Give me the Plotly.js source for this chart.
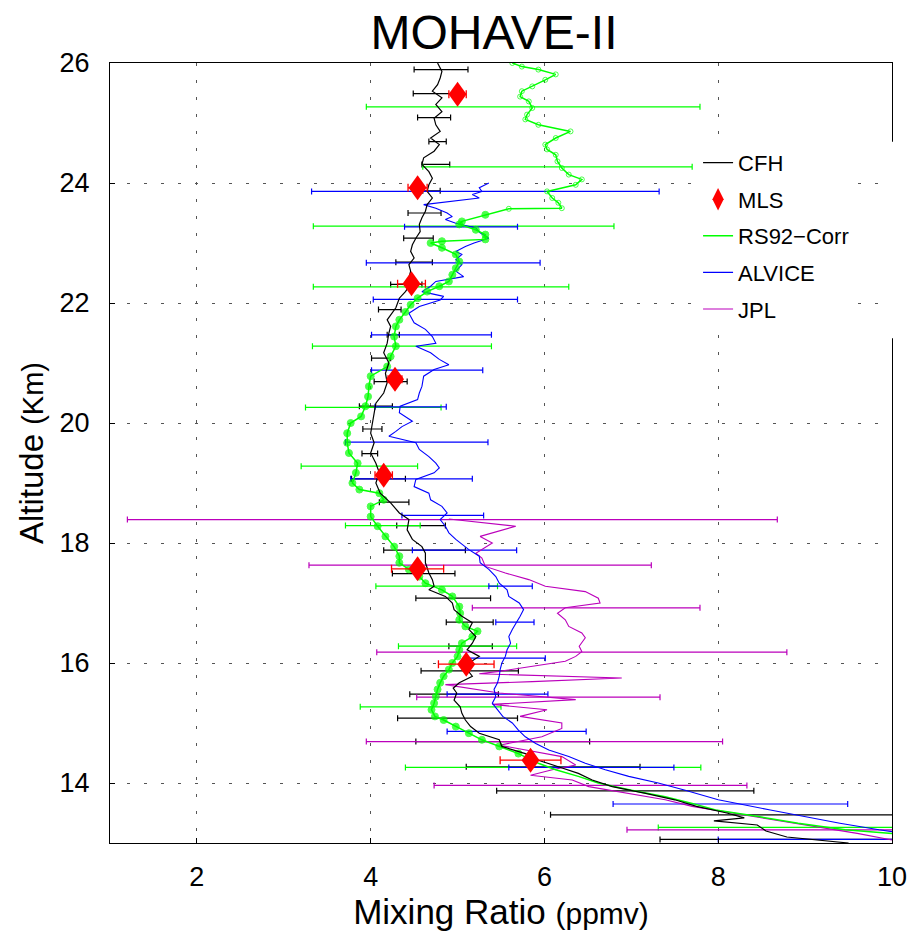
<!DOCTYPE html>
<html>
<head>
<meta charset="utf-8">
<script src="https://cdn.plot.ly/plotly-3.0.1.min.js"></script>
<style>html,body{margin:0;padding:0;background:#fff;}#chart{width:924px;height:931px;}</style>
</head>
<body>
<div id="chart"></div>
<script>
// ---------- CFH (black) profile ----------
const cfhAlt = [26.0,25.86,25.75,25.64,25.53,25.42,25.31,25.19,25.08,24.97,24.86,24.75,24.64,24.53,24.42,24.31,24.19,24.08,23.97,23.86,23.75,23.64,23.53,23.42,23.31,23.19,23.08,22.97,22.86,22.75,22.64,22.53,22.42,22.31,22.19,22.08,21.92,21.72,21.61,21.5,21.33,21.17,21.0,20.83,20.67,20.5,20.33,20.17,20.0,19.83,19.67,19.5,19.33,19.17,19.0,18.83,18.67,18.5,18.39,18.22,18.06,17.94,17.83,17.67,17.5,17.39,17.28,17.22,17.11,17.0,16.89,16.78,16.67,16.56,16.44,16.33,16.22,16.11,16.0,15.89,15.78,15.67,15.58,15.5,15.38,15.27,15.16,15.05,14.94,14.83,14.72,14.61,14.49,14.38,14.27,14.16,14.05,13.94,13.83,13.72,13.61,13.5,13.42,13.37,13.3,13.2,13.1,13.05,13.0];
const cfhMix = [4.77,4.82,4.80,4.77,4.71,4.82,4.75,4.82,4.73,4.75,4.80,4.69,4.79,4.73,4.61,4.59,4.67,4.71,4.67,4.65,4.71,4.65,4.63,4.59,4.56,4.57,4.52,4.48,4.46,4.50,4.44,4.46,4.44,4.46,4.40,4.33,4.29,4.19,4.23,4.21,4.19,4.15,4.21,4.17,4.19,4.15,4.06,4.04,4.02,4.00,4.04,4.00,4.06,4.10,4.06,4.11,4.23,4.33,4.44,4.42,4.48,4.59,4.63,4.63,4.67,4.71,4.73,4.67,4.86,4.94,4.96,5.05,5.17,5.13,5.21,5.17,5.11,5.25,5.13,5.11,5.17,5.02,4.95,4.99,4.96,5.03,5.05,5.09,5.15,5.25,5.48,5.51,5.78,5.93,6.16,6.39,6.55,6.78,7.15,7.50,7.75,8.10,8.30,7.95,8.45,8.55,8.79,9.15,9.50];

// ---------- RS92-Corr (green) profile ----------
const rsAlt = [26.0,25.94,25.89,25.81,25.72,25.61,25.53,25.44,25.36,25.25,25.14,25.06,24.97,24.86,24.75,24.64,24.56,24.47,24.36,24.25,24.14,24.06,23.97,23.86,23.75,23.67,23.58,23.57,23.47,23.36,23.31,23.22,23.14,23.06,23.03,23.0,22.92,22.81,22.69,22.58,22.47,22.36,22.28,22.19,22.08,21.97,21.85,21.72,21.61,21.44,21.28,21.11,20.94,20.78,20.61,20.44,20.28,20.11,20.0,19.83,19.67,19.5,19.33,19.17,19.0,18.89,18.83,18.72,18.61,18.44,18.28,18.11,17.94,17.78,17.67,17.56,17.44,17.33,17.22,17.11,16.94,16.83,16.72,16.61,16.53,16.44,16.33,16.22,16.11,16.0,15.89,15.78,15.67,15.56,15.44,15.33,15.22,15.11,15.05,14.94,14.83,14.72,14.61,14.49,14.33,14.22,14.11,14.0,13.88,13.77,13.66,13.55,13.44,13.33,13.22,13.16];
const rsMix = [5.63,5.74,5.93,6.13,6.01,5.86,5.74,5.72,5.82,5.86,5.80,5.78,5.93,6.30,6.13,6.01,6.03,6.13,6.15,6.20,6.28,6.43,6.36,6.03,6.09,6.16,6.20,5.59,5.32,5.05,5.02,5.21,5.32,5.32,4.82,4.69,4.82,4.98,5.02,4.98,4.94,4.90,4.79,4.65,4.54,4.46,4.40,4.33,4.29,4.27,4.29,4.23,4.19,4.00,3.98,3.97,3.94,3.89,3.77,3.73,3.73,3.75,3.85,3.83,3.79,3.87,4.10,4.15,4.00,4.00,4.08,4.17,4.27,4.33,4.33,4.44,4.56,4.63,4.82,4.94,5.02,5.03,5.02,5.09,5.23,5.17,5.05,5.02,5.00,4.94,4.90,4.84,4.80,4.77,4.75,4.73,4.70,4.74,4.84,4.98,5.13,5.28,5.48,5.70,5.93,6.13,6.39,6.62,7.00,7.39,7.70,7.97,8.46,8.92,9.46,10.0];

// ---------- ALVICE (blue) profile ----------
const alvAlt = [24.0,23.92,23.86,23.81,23.75,23.69,23.64,23.58,23.5,23.44,23.39,23.33,23.25,23.17,23.08,23.0,22.94,22.86,22.81,22.72,22.64,22.53,22.44,22.36,22.28,22.19,22.11,22.05,21.94,21.83,21.67,21.56,21.44,21.33,21.28,21.17,21.06,20.97,20.89,20.78,20.61,20.5,20.39,20.28,20.17,20.03,19.94,19.86,19.78,19.67,19.56,19.44,19.33,19.25,19.17,19.06,18.94,18.83,18.72,18.61,18.5,18.39,18.28,18.17,18.06,17.89,17.78,17.67,17.56,17.44,17.33,17.22,17.11,17.0,16.89,16.78,16.67,16.56,16.44,16.33,16.22,16.11,16.0,15.89,15.78,15.67,15.56,15.44,15.33,15.22,15.11,15.0,14.88,14.77,14.66,14.55,14.44,14.33,14.22,14.11,14.0,13.88,13.72,13.55,13.44,13.33,13.22,13.19];
const alvMix = [5.36,5.25,5.28,5.17,5.25,4.90,4.61,4.75,4.88,4.94,4.86,4.98,5.21,5.26,5.36,5.19,5.09,4.98,5.05,4.98,5.05,4.98,5.07,4.75,4.69,4.59,4.84,4.80,4.56,4.44,4.50,4.63,4.71,4.75,4.52,4.69,4.79,4.90,4.73,4.61,4.59,4.56,4.54,4.34,4.33,4.48,4.36,4.29,4.21,4.52,4.56,4.67,4.75,4.79,4.73,4.52,4.50,4.67,4.69,4.82,4.88,4.80,4.86,4.90,4.98,5.13,5.25,5.26,5.36,5.44,5.48,5.57,5.59,5.71,5.76,5.72,5.67,5.63,5.59,5.61,5.57,5.55,5.51,5.49,5.48,5.46,5.42,5.44,5.40,5.46,5.52,5.63,5.70,5.78,5.90,6.05,6.28,6.47,6.70,6.97,7.31,7.62,8.00,8.60,9.00,9.40,9.85,10.0];

// ---------- JPL (magenta) profile ----------
const jplAlt = [18.4,18.28,18.11,18.0,17.83,17.75,17.61,17.5,17.39,17.28,17.19,17.08,17.0,16.92,16.83,16.72,16.61,16.5,16.42,16.28,16.19,16.11,16.03,15.94,15.86,15.82,15.75,15.69,15.64,15.5,15.39,15.31,15.22,15.11,15.0,14.91,14.77,14.63,14.55,14.44,14.3,14.22,14.13,14.05,13.94,13.83,13.72,13.61,13.49,13.38,13.27,13.16,13.05];
const jplMix = [4.90,5.67,5.26,5.40,5.21,5.28,5.32,5.55,5.82,6.01,6.47,6.62,6.64,6.24,6.15,6.24,6.28,6.43,6.47,6.40,6.43,6.36,6.24,5.86,5.48,5.25,6.89,5.86,4.86,5.48,6.36,5.40,6.03,5.72,6.20,6.20,5.97,5.48,5.78,6.20,6.36,6.09,5.84,6.32,6.51,6.95,7.39,7.70,8.20,8.65,9.15,9.60,10.0];

// ---------- MLS (red diamonds) ----------
const mlsAlt = [25.48,23.92,22.32,20.73,19.13,17.57,15.98,14.38];
const mlsMix = [5.00,4.54,4.47,4.28,4.15,4.54,5.10,5.84];
const mlsErr = [0.10,0.11,0.16,0.08,0.10,0.30,0.32,0.35];

// ---------- error bars (centre, altitude, half width) ----------
const cfhErrAlt = [25.89,25.49,25.09,24.69,24.31,23.87,23.5,23.08,22.68,22.31,21.89,21.47,21.08,20.69,20.28,19.9,19.49,19.07,18.68,18.29,17.88,17.49,17.08,16.68,16.28,15.87,15.48,15.08,14.69,14.27,13.87,13.47,13.06];
const cfhErrMix = [4.81,4.73,4.73,4.77,4.75,4.70,4.62,4.55,4.50,4.41,4.22,4.26,4.12,4.23,4.06,4.02,3.99,4.09,4.27,4.58,4.62,4.61,4.95,5.14,5.15,5.14,4.96,5.00,5.52,6.10,6.93,8.10,9.20];
const cfhErrVal = [0.31,0.24,0.19,0.10,0.16,0.10,0.19,0.17,0.21,0.18,0.13,0.07,0.11,0.19,0.19,0.11,0.09,0.31,0.17,0.28,0.47,0.36,0.43,0.27,0.25,0.56,0.51,0.69,1.00,1.00,1.48,2.03,1.87];

const rsErrAlt = [25.27,24.27,23.28,22.27,21.28,20.26,19.28,18.29,17.28,16.28,15.27,14.26,13.26];
const rsErrMix = [5.87,6.15,5.07,4.81,4.36,4.03,3.87,4.14,4.76,5.00,4.69,6.10,9.25];
const rsErrVal = [1.92,1.55,1.73,1.47,1.03,0.78,0.67,0.43,0.70,0.68,0.81,1.70,1.94];

const alvErrAlt = [23.86,23.27,22.67,22.06,21.47,20.88,20.27,19.68,19.07,18.46,17.88,17.28,16.68,16.08,15.48,14.86,14.26,13.65,13.06];
const alvErrMix = [5.32,5.04,4.95,4.86,4.70,4.65,4.46,4.53,4.47,4.83,5.08,5.61,5.66,5.55,5.46,5.68,6.54,8.14,10.40];
const alvErrVal = [2.00,0.65,1.00,0.83,0.69,0.64,0.41,0.82,0.70,0.47,0.60,0.25,0.22,0.46,0.58,0.80,0.95,1.35,2.40];

const jplErrAlt = [18.39,17.63,16.92,16.18,15.43,14.69,13.96,13.22];
const jplErrMix = [4.94,5.26,6.48,6.43,5.93,6.00,6.53,9.40];
const jplErrVal = [3.74,1.97,1.31,2.36,1.40,2.05,1.80,2.45];

const xTicks = [2,4,6,8,10];
const yTicks = [14,16,18,20,22,24,26];

const C_CFH = '#000000', C_RS = '#00ff00', C_ALV = '#0000ff', C_JPL = '#bb00bb', C_MLS = '#ff0000';
const FONT = 'Liberation Sans, Arial, Helvetica, sans-serif';

function errTrace(xs, ys, es, color) {
  return {
    x: xs, y: ys, type: 'scatter', mode: 'markers',
    marker: {size: 1, color: color, opacity: 0},
    error_x: {type: 'data', array: es, symmetric: true, color: color, thickness: 1.2, width: 3},
    showlegend: false, hoverinfo: 'skip'
  };
}

const traces = [
  errTrace(cfhErrMix, cfhErrAlt, cfhErrVal, C_CFH),
  errTrace(rsErrMix, rsErrAlt, rsErrVal, C_RS),
  errTrace(alvErrMix, alvErrAlt, alvErrVal, C_ALV),
  errTrace(jplErrMix, jplErrAlt, jplErrVal, C_JPL),
  {x: jplMix, y: jplAlt, type: 'scatter', mode: 'lines', name: 'JPL',
   line: {color: C_JPL, width: 1.1}, legendgroup: 'g5', legendrank: 5},
  {x: alvMix, y: alvAlt, type: 'scatter', mode: 'lines', name: 'ALVICE',
   line: {color: C_ALV, width: 1.1}, legendgroup: 'g4', legendrank: 4},
  {x: rsMix, y: rsAlt, type: 'scatter', mode: 'lines', name: 'RS92\u2212Corr',
   line: {color: C_RS, width: 1.5}, legendgroup: 'g3', legendrank: 3},
  {x: rsMix, y: rsAlt, type: 'scatter', mode: 'markers', showlegend: false, hoverinfo: 'skip',
   marker: {color: C_RS,
            size: rsAlt.map(a => a < 14.4 ? 0 : (a > 23.5 ? 5 : 7)),
            symbol: rsAlt.map(a => a > 23.5 ? 'circle-open' : 'circle'),
            line: {color: C_RS, width: 1}}},
  {x: cfhMix, y: cfhAlt, type: 'scatter', mode: 'lines', name: 'CFH',
   line: {color: C_CFH, width: 1.2}, legendgroup: 'g1', legendrank: 1},
  {x: mlsMix, y: mlsAlt, type: 'scatter', mode: 'markers', name: 'MLS',
   marker: {symbol: 'diamond-tall', size: 16, color: C_MLS, line: {width: 0}},
   error_x: {type: 'data', array: mlsErr, symmetric: true, color: C_MLS, thickness: 1.3, width: 4},
   legendgroup: 'g2', legendrank: 2}
];

// diamond glyphs for MLS, anchored at each data point (pixel-sized path)
const diamondPath = 'M0,12.5 L9,0 L0,-12.5 L-9,0 Z';
const mlsShapes = mlsMix.map((m, i) => ({
  type: 'path', xref: 'x', yref: 'y', xsizemode: 'pixel', ysizemode: 'pixel',
  xanchor: m, yanchor: mlsAlt[i], path: diamondPath,
  fillcolor: C_MLS, line: {width: 0}, layer: 'above'
}));

const layout = {
  width: 924, height: 931,
  margin: {l: 110, r: 32, t: 63, b: 88},
  paper_bgcolor: '#fff', plot_bgcolor: '#fff',
  font: {family: FONT, color: '#000'},
  title: {text: 'MOHAVE-II', font: {family: FONT, size: 48, color: '#000'},
          xref: 'paper', x: 0.491, xanchor: 'center', yref: 'container', y: 0.965, yanchor: 'middle'},
  xaxis: {
    range: [1, 10], tickvals: xTicks, ticktext: xTicks.map(String),
    ticks: 'inside', ticklen: 5, tickcolor: '#000', tickwidth: 1,
    showgrid: true, gridcolor: '#555', gridwidth: 1, griddash: '3px,14px',
    showline: true, linecolor: '#000', linewidth: 1, mirror: true, zeroline: false,
    tickfont: {size: 27, family: FONT, color: '#000'}, ticklabelstandoff: 10,
    title: {text: 'Mixing Ratio <span style="font-size:30px">(ppmv)</span>', font: {size: 35, family: FONT, color: '#000'}, standoff: 4}
  },
  yaxis: {
    range: [13, 26], tickvals: yTicks, ticktext: yTicks.map(String),
    ticks: 'inside', ticklen: 5, tickcolor: '#000', tickwidth: 1,
    showgrid: true, gridcolor: '#555', gridwidth: 1, griddash: '3px,14px',
    showline: true, linecolor: '#000', linewidth: 1, mirror: true, zeroline: false,
    tickfont: {size: 27, family: FONT, color: '#000'}, ticklabelstandoff: 14,
    title: {text: 'Altitude <span style="font-size:29px">(Km)</span>', font: {size: 33, family: FONT, color: '#000'}, standoff: 6}
  },
  legend: {
    x: 0.752, y: 0.899, xanchor: 'left', yanchor: 'top',
    bgcolor: '#fff', borderwidth: 0,
    font: {size: 22, family: FONT, color: '#000'},
    traceorder: 'grouped', tracegroupgap: 5
  },
  shapes: [
    {type: 'rect', xref: 'paper', yref: 'paper', x0: 0.985, x1: 1.01, y0: 0.647, y1: 0.899,
     fillcolor: '#fff', line: {width: 0}, layer: 'above'}
  ].concat(mlsShapes),
  showlegend: true
};

Plotly.newPlot('chart', traces, layout, {displayModeBar: false, staticPlot: true});
</script>
</body>
</html>
